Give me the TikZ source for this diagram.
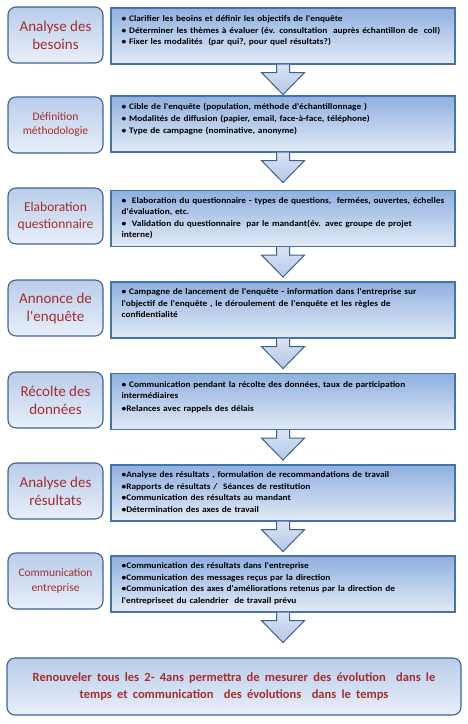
\documentclass[tikz,border=0pt]{standalone}
\usepackage{fontspec}
\setmainfont{Carlito}
\newfontfamily\detailfont[FakeStretch=1.1]{Carlito}
\usetikzlibrary{calc}

\definecolor{stageborder}{HTML}{3D6396}
\definecolor{stagetop}{HTML}{B9CDEA}
\definecolor{stagebottom}{HTML}{E8EFF9}
\definecolor{stagered}{HTML}{A52D2C}
\definecolor{detailborder}{HTML}{4673AC}
\definecolor{detailtop}{HTML}{8FB0DF}
\definecolor{detailbottom}{HTML}{E2EAF6}
\definecolor{arrowborder}{HTML}{3D5F8E}
\definecolor{arrowtop}{HTML}{D9E3F3}
\definecolor{arrowbottom}{HTML}{B4C8E8}

\newcommand{\finalfont}{\fontsize{12.5}{17}\selectfont\bfseries\spaceskip=5.2pt plus 1pt\relax}

\tikzset{
  stage/.style={draw=stageborder, line width=1.1pt, rounded corners=8pt,
    top color=stagetop, bottom color=stagebottom,
    minimum width=95pt, minimum height=56pt, inner sep=0pt,
    align=center, text=stagered},
  detail/.style={draw=detailborder, line width=1.1pt,
    top color=detailtop, bottom color=detailbottom,
    minimum width=344pt, minimum height=56pt, inner sep=0pt},
  detailtext/.style={anchor=north west, align=left, inner sep=0pt,
    text width=340pt, font=\detailfont\fontsize{8.5}{11.6}\selectfont\bfseries},
  arrowfill/.style={top color=arrowtop, bottom color=arrowbottom},
  arrowline/.style={draw=arrowborder, line width=1pt, line join=miter}
}

\begin{document}
\begin{tikzpicture}[x=1pt,y=-1pt]
  \useasboundingbox (0,0) rectangle (467,724);

  % left column
  \node[stage, font=\fontsize{15}{18}\selectfont] (s1) at (55.5,35) {Analyse des\\besoins};
  \node[stage, font=\fontsize{11.5}{14}\selectfont] (s2) at (55.5,125) {Définition\\méthodologie};
  \node[stage, font=\fontsize{13.5}{17}\selectfont] (s3) at (55.5,216) {Elaboration\\questionnaire};
  \node[stage, font=\fontsize{15}{18}\selectfont] (s4) at (55.5,308) {Annonce de\\l\textquotesingle enquête};
  \node[stage, font=\fontsize{15}{18}\selectfont] (s5) at (55.5,400) {Récolte des\\données};
  \node[stage, font=\fontsize{15}{18}\selectfont] (s6) at (55.5,491) {Analyse des\\résultats};
  \node[stage, font=\fontsize{11.5}{15}\selectfont] (s7) at (55.5,581) {Communication\\entreprise};

  % right column
  \node[detail] (r1) at (283,36) {};
  \node[detail] (r2) at (283,124) {};
  \node[detail] (r3) at (283,218.5) {};
  \node[detail] (r4) at (283,310) {};
  \node[detail] (r5) at (283,401.5) {};
  \node[detail] (r6) at (283,493) {};
  \node[detail] (r7) at (283,584) {};

  \node[detailtext] (t1) at ($(r1.north west)+(11,8)$)
    {• Clarifier les beoins et définir les objectifs de l'enquête\\
     • Déterminer les thèmes à évaluer (év. consultation \ auprès échantillon de \ coll)\\
     • Fixer les modalités \ (par qui?, pour quel résultats?)};
  \node[detailtext] (t2) at ($(r2.north west)+(11,8)$)
    {• Cible de l'enquête (population, méthode d'échantillonnage )\\
     • Modalités de diffusion (papier, email, face-à-face, téléphone)\\
     • Type de campagne (nominative, anonyme)};
  \node[detailtext] (t3) at ($(r3.north west)+(11,7)$)
    {• \ Elaboration du questionnaire - types de questions, \ fermées, ouvertes, échelles\\
     d'évaluation, etc.\\
     • \ Validation du questionnaire \ par le mandant(év. avec groupe de projet\\
     interne)};
  \node[detailtext] (t4) at ($(r4.north west)+(11,7)$)
    {• Campagne de lancement de l'enquête - information dans l'entreprise sur\\
     l'objectif de l'enquête , le déroulement de l'enquête et les règles de\\
     confidentialité};
  \node[detailtext] (t5) at ($(r5.north west)+(11,8)$)
    {• Communication pendant la récolte des données, taux de participation\\
     intermédiaires\\[1.5pt]
     •Relances avec rappels des délais};
  \node[detailtext] (t6) at ($(r6.north west)+(11,7)$)
    {•Analyse des résultats , formulation de recommandations de travail\\
     •Rapports de résultats / \ Séances de restitution\\
     •Communication des résultats au mandant\\
     •Détermination des axes de travail};
  \node[detailtext] (t7) at ($(r7.north west)+(11,7)$)
    {•Communication des résultats dans l'entreprise\\
     •Communication des messages reçus par la direction\\
     •Communication des axes d'améliorations retenus par la direction de\\
     l'entrepriseet du calendrier \ de travail prévu};

  % final box
  \node[stage, minimum width=454pt, minimum height=57pt, font=\finalfont]
    (f) at (234,686.5)
    {Renouveler tous les 2- 4ans permettra de mesurer des évolution \ dans le\\
     temps et communication \ des évolutions \ dans le temps};

  % block arrows
  \foreach \i in {1,...,7} {
    \path[arrowfill, shift={(r\i.south)}]
      (-6.5,0) -- (-6.5,8) -- (-21.5,8) -- (0,30) -- (21.5,8) -- (6.5,8) -- (6.5,0) -- cycle;
    \draw[arrowline, shift={(r\i.south)}]
      (-6.5,0) -- (-6.5,8) -- (-21.5,8) -- (0,30) -- (21.5,8) -- (6.5,8) -- (6.5,0);
  }
\end{tikzpicture}
\end{document}
